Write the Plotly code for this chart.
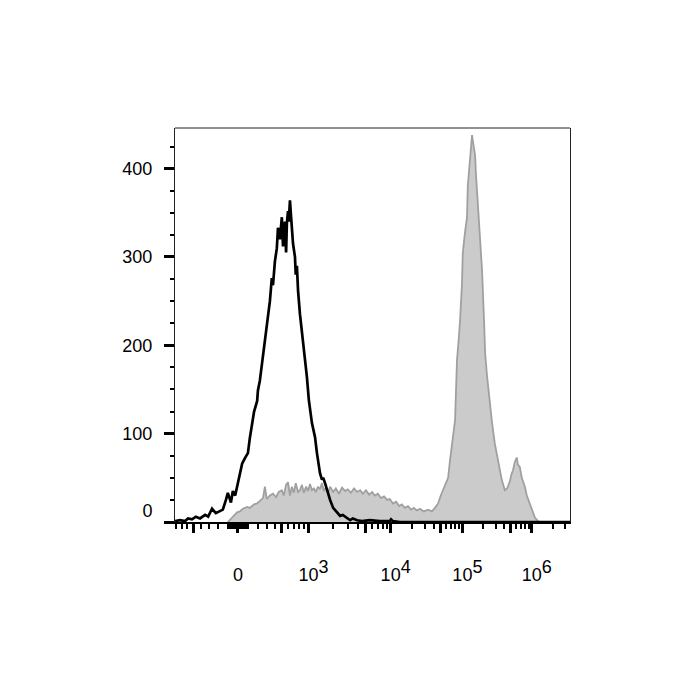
import numpy as np
import plotly.graph_objects as go

# ---- Data: flow cytometry histograms in display channels (0-1024, biexponential axis)
black_ch = [0, 13, 26, 34, 44, 54, 65, 78, 86, 96, 106, 117, 124, 132, 137, 145, 150, 156, 163, 168,
            174, 181, 189, 194, 200, 205, 213, 215, 220, 228, 233, 238, 241, 246, 251, 254, 259, 264, 267, 272,
            277, 280, 285, 288, 290, 293, 295, 298, 301, 303, 306, 311, 313, 316, 319, 324, 329, 332, 337, 342,
            347, 352, 355, 360, 363, 368, 373, 376, 381, 384, 389, 394, 402, 410, 420, 428, 435, 446, 454, 461,
            472, 485, 505, 531, 557, 560, 565, 583, 700, 850, 1024]
black_counts = [1, 2, 1, 4, 3, 6, 4, 8, 6, 15, 10, 12, 14, 25, 33, 22, 35, 30, 45, 55,
                66, 72, 78, 95, 111, 125, 137, 149, 160, 186, 205, 222, 231, 250, 276, 268, 295, 310, 333, 320,
                345, 312, 340, 305, 338, 352, 340, 364, 345, 330, 315, 300, 280, 290, 262, 235, 215, 206, 185, 164,
                138, 118, 112, 102, 96, 78, 62, 55, 48, 50, 44, 36, 25, 16, 11, 7, 8, 4, 2, 4,
                2, 1, 2, 1, 1, 3, 1, 0, 0, 0, 0]

gray_ch = [137, 148, 161, 168, 176, 187, 194, 205, 213, 220, 228, 233, 238, 246, 254, 262, 269, 277, 282, 288,
           293, 298, 303, 308, 313, 319, 324, 329, 334, 340, 345, 350, 355, 360, 365, 371, 376, 381, 386, 391,
           397, 402, 410, 417, 425, 433, 441, 448, 456, 464, 472, 480, 487, 495, 503, 511, 518, 526, 534, 542,
           550, 557, 565, 573, 581, 588, 596, 604, 612, 619, 627, 635, 645, 656, 666, 674, 682, 689, 695, 702,
           708, 713, 718, 723, 726, 728, 731, 736, 739, 744, 746, 751, 757, 759, 765, 770, 772, 778, 780, 785,
           790, 796, 801, 804, 809, 816, 822, 829, 835, 842, 847, 855, 861, 863, 868, 873, 876, 881, 886, 889,
           894, 899, 907, 912, 920, 925, 933, 941, 946, 1024]
gray_counts = [0, 5, 11, 12, 15, 17, 16, 20, 21, 24, 27, 40, 26, 30, 32, 28, 34, 36, 30, 42,
               45, 30, 40, 33, 44, 34, 36, 42, 33, 40, 35, 43, 36, 38, 34, 40, 37, 44, 35, 39,
               33, 40, 34, 38, 32, 39, 35, 37, 33, 38, 34, 36, 32, 36, 31, 34, 30, 32, 27, 29,
               25, 26, 21, 23, 18, 20, 16, 18, 14, 16, 13, 15, 12, 14, 12, 16, 21, 30, 36, 45,
               50, 70, 85, 105, 115, 150, 183, 210, 228, 270, 304, 325, 345, 380, 417, 438, 432, 415, 395, 360,
               320, 285, 230, 191, 165, 134, 112, 89, 75, 58, 48, 36, 38, 40, 46, 55, 58, 68, 73, 65,
               62, 50, 40, 30, 21, 14, 5, 1, 0, 0]

# ---- Axis definition (biexponential display)
anchor_values = [0, 1e3, 1e4, 1e5, 1e6, 1e7]
anchor_channels = [163, 346, 559, 745, 925, 1105]
x_tick_values = [0, 1e3, 1e4, 1e5, 1e6]
x_exponents = ["", "3", "4", "5", "6"]
y_tick_values = [0, 100, 200, 300, 400]
y_tick_labels = ["0<br> ", "100", "200", "300", "400"]

FS = 18
x_tick_labels = ["0"] + [
    "&nbsp;&nbsp;10<sup><span style='font-size:%dpx'>%s</span></sup>" % (FS, e) for e in x_exponents[1:]
]


def to_channel(v):
    v = np.atleast_1d(np.asarray(v, float))
    out = np.empty_like(v)
    lin = np.abs(v) <= 1000
    w = 450.0
    c0, c3 = anchor_channels[0], anchor_channels[1]
    out[lin] = c0 + np.sign(v[lin]) * (c3 - c0) * np.arcsinh(np.abs(v[lin]) / w) / np.arcsinh(1000 / w)
    hi = ~lin
    out[hi] = np.interp(np.log10(v[hi]), [3, 4, 5, 6, 7], anchor_channels[1:])
    return out


# medium ticks (+/-500, 5x10^k) and minor ticks
medium_vals = [-500, 500, 5e3, 5e4, 5e5]
minor_vals = [s * m for s in (-1, 1) for m in list(range(10, 100, 10)) + [100, 200, 300, 400, 600, 700, 800, 900]]
for k in (3, 4, 5, 6):
    for m in (2, 3, 4, 6, 7, 8, 9):
        minor_vals.append(m * 10 ** k)

major_pos = list(to_channel(x_tick_values)) + list(to_channel(medium_vals))
major_txt = x_tick_labels + [""] * len(medium_vals)
minor_pos = [p for p in to_channel(minor_vals) if 0 <= p <= 1024]

fig = go.Figure()
fig.add_trace(go.Scatter(
    x=gray_ch, y=gray_counts, mode="lines", fill="tozeroy",
    fillcolor="#cbcbcb", line=dict(color="#a0a0a0", width=1.8), showlegend=False,
))
fig.add_trace(go.Scatter(
    x=black_ch, y=black_counts, mode="lines",
    line=dict(color="black", width=2.7), showlegend=False,
))

font = dict(family="Liberation Sans, Arial, sans-serif", size=FS, color="black")

fig.update_layout(
    width=700, height=700,
    margin=dict(l=167, r=138, t=120, b=186),
    paper_bgcolor="white", plot_bgcolor="white",
    font=font,
    xaxis=dict(
        range=[0, 1024], showgrid=False, zeroline=False,
        showline=True, linecolor="black", linewidth=2,
        ticks="outside", tickmode="array", tickvals=major_pos, ticktext=major_txt,
        ticklen=9, tickwidth=2.5, tickcolor="black",
        ticklabelstandoff=26, tickfont=font,
        minor=dict(tickmode="array", tickvals=minor_pos, ticks="outside",
                   ticklen=5, tickwidth=1.5, tickcolor="black", showgrid=False),
    ),
    yaxis=dict(
        range=[0, 446], showgrid=False, zeroline=False,
        showline=True, linecolor="#222222", linewidth=1, mirror=True,
        ticks="outside", tickmode="array", tickvals=y_tick_values, ticktext=y_tick_labels,
        ticklen=10, tickwidth=2.5, tickcolor="black",
        ticklabelstandoff=8, tickfont=font,
        minor=dict(dtick=25, tick0=0, ticks="outside", ticklen=4, tickwidth=1.5,
                   tickcolor="black", showgrid=False),
    ),
    shapes=[dict(type="line", xref="paper", yref="paper", x0=0, x1=1, y0=1, y1=1,
                 line=dict(color="#222222", width=1))],
)

fig.write_html("out.html")
